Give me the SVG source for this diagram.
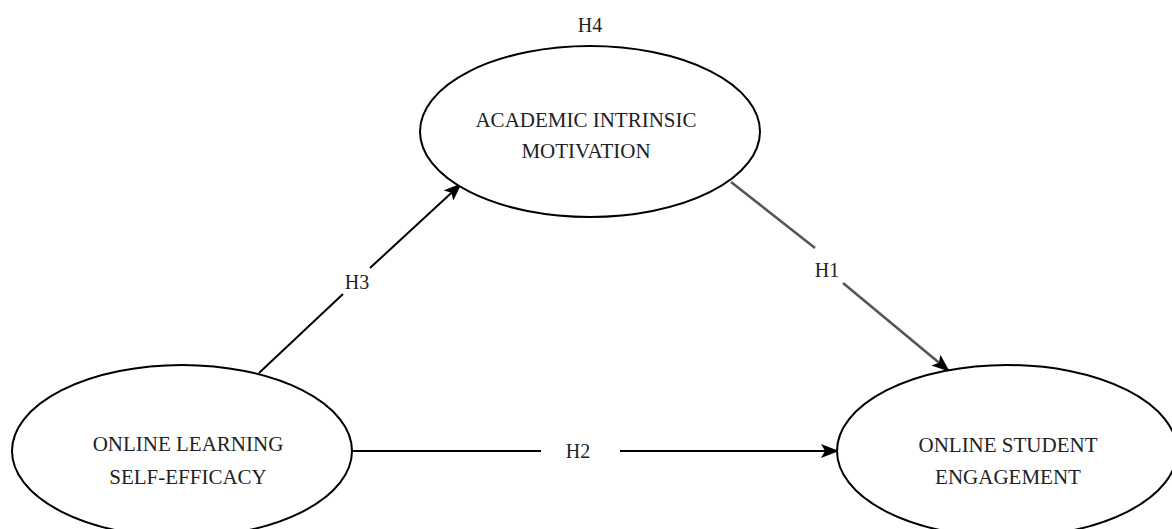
<svg xmlns="http://www.w3.org/2000/svg" width="1172" height="529" viewBox="0 0 1172 529">
<style>
.node ellipse{fill:#fff;stroke:#000;stroke-width:2}
text{font-family:"Liberation Serif","Times New Roman",serif;fill:#222;text-anchor:middle}
.lbl{font-size:21px}
.h{font-size:20px}
.c{fill:none;stroke:#000;stroke-width:2}
.g{stroke:#555;stroke-width:2.6}
</style>
<defs>
<marker id="arr" viewBox="0 0 18 14" refX="17" refY="7" markerWidth="18" markerHeight="14" markerUnits="userSpaceOnUse" orient="auto">
<path d="M0,0 L18,7 L0,14 L4,7 Z" fill="#000"/>
</marker>
</defs>
<g id="connectors">
<line class="c" x1="259" y1="373" x2="343" y2="294"/>
<line class="c" x1="370" y1="268" x2="461" y2="184" marker-end="url(#arr)"/>
<line class="c g" x1="731" y1="182" x2="815" y2="248"/>
<line class="c g" x1="843" y1="283" x2="949" y2="371" marker-end="url(#arr)"/>
<line class="c" x1="352" y1="451" x2="541" y2="451"/>
<line class="c" x1="620" y1="451" x2="838" y2="451" marker-end="url(#arr)"/>
<text class="h" x="357" y="289">H3</text>
<text class="h" x="827" y="277">H1</text>
<text class="h" x="578" y="458">H2</text>
</g>
<g id="motivation" class="node">
<ellipse cx="590" cy="131.5" rx="170" ry="85.5"/>
<text class="lbl" x="586" y="127">ACADEMIC INTRINSIC</text>
<text class="lbl" x="586" y="158">MOTIVATION</text>
</g>
<text id="h4" class="h" x="590" y="32">H4</text>
<g id="selfefficacy" class="node">
<ellipse cx="182" cy="451" rx="170" ry="86"/>
<text class="lbl" x="188" y="451">ONLINE LEARNING</text>
<text class="lbl" x="188" y="484">SELF-EFFICACY</text>
</g>
<g id="engagement" class="node">
<ellipse cx="1007" cy="451" rx="170" ry="86"/>
<text class="lbl" x="1008" y="452">ONLINE STUDENT</text>
<text class="lbl" x="1008" y="484">ENGAGEMENT</text>
</g>
</svg>
